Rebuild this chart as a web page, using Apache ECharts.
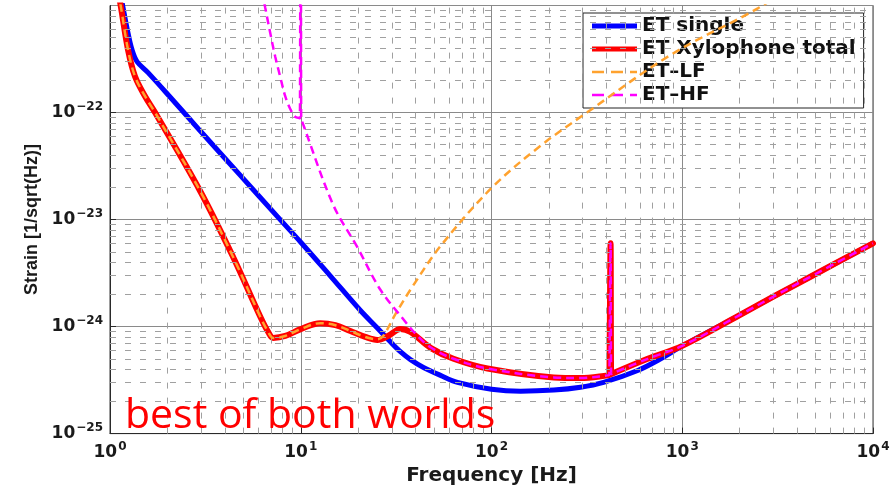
<!DOCTYPE html>
<html>
<head>
<meta charset="utf-8">
<title>ET sensitivity: single vs xylophone</title>
<script src="https://cdn.jsdelivr.net/npm/echarts@6/dist/echarts.min.js"></script>
<style>
  html, body { margin: 0; padding: 0; background: #fff; }
  #chart { width: 895px; height: 491px; }
</style>
</head>
<body>
<div id="chart"></div>
<script>
// ---- Sensitivity curves: frequency [Hz] and strain [1/sqrt(Hz)] ----
const singleFreq   = [1.128, 1.170, 1.243, 1.305, 1.386, 1.583, 2.116, 2.968, 4.81, 7.53, 10, 14.28, 20.5, 25.2, 29.5, 33.3, 37.6, 44, 54, 66.3, 100, 142, 212, 293, 387, 584, 771, 1000, 2000, 3000, 5000, 10000];
const singleStrain = [1.37e-21, 9.6e-22, 5.52e-22, 3.85e-22, 2.99e-22, 2.36e-22, 1.33e-22, 6.75e-23, 2.6e-23, 1.07e-23, 6.14e-24, 2.98e-24, 1.42e-24, 9.7e-25, 7.2e-25, 5.82e-25, 4.91e-25, 4.15e-25, 3.5e-25, 3.01e-25, 2.6e-25, 2.49e-25, 2.55e-25, 2.71e-25, 3.01e-25, 3.89e-25, 5.0e-25, 6.6e-25, 1.28e-24, 1.9e-24, 3.1e-24, 6e-24];

const totalFreq   = [1.102, 1.142, 1.243, 1.353, 1.526, 1.723, 2.968, 4.42, 6.12, 6.75, 7.17, 8.29, 10, 12.66, 15.2, 18.2, 21.8, 25.2, 28.8, 33.3, 37.6, 47.9, 63.2, 95.3, 212, 293, 406, 415, 418, 421, 424, 427, 659, 1000, 2000, 3000, 5000, 10000];
const totalStrain = [1.37e-21, 9.6e-22, 3.85e-22, 2.17e-22, 1.42e-22, 1e-22, 1.85e-23, 4.47e-24, 1.25e-24, 8.9e-25, 7.83e-25, 8.17e-25, 9.48e-25, 1.076e-24, 1.03e-24, 9.1e-25, 8.0e-25, 7.5e-25, 8.2e-25, 9.5e-25, 8.9e-25, 6.33e-25, 5.0e-25, 4.06e-25, 3.35e-25, 3.3e-25, 3.5e-25, 3.54e-25, 3.55e-25, 6e-24, 3.6e-25, 3.62e-25, 5.0e-25, 6.6e-25, 1.28e-24, 1.9e-24, 3.1e-24, 6e-24];

const lfFreq   = [1.102, 1.142, 1.243, 1.353, 1.526, 1.723, 2.968, 4.42, 6.12, 6.75, 7.17, 8.29, 10, 12.66, 15.2, 18.2, 21.8, 25.2, 27.1, 31.3, 38.5, 54, 100, 181, 319, 871, 2490, 3715];
const lfStrain = [1.37e-21, 9.6e-22, 3.85e-22, 2.17e-22, 1.42e-22, 1e-22, 1.85e-23, 4.47e-24, 1.25e-24, 8.9e-25, 7.83e-25, 8.17e-25, 9.48e-25, 1.076e-24, 1.03e-24, 9.1e-25, 8.0e-25, 7.6e-25, 8.2e-25, 1.3e-24, 2.36e-24, 5.64e-24, 1.97e-23, 4.9e-23, 1.01e-22, 3.46e-22, 9.4e-22, 1.5e-21];

const hfFreq   = [6.27, 6.51, 6.92, 7.35, 7.8, 8.29, 8.81, 9.36, 9.9, 9.95, 10, 10.05, 10.1, 14.8, 19.8, 26.1, 34.5, 40.9, 47.9, 63.2, 95.3, 212, 293, 406, 415, 418, 421, 424, 427, 659, 1000, 2000, 3000, 5000, 10000];
const hfStrain = [1.37e-21, 9.6e-22, 5.52e-22, 3.32e-22, 2.17e-22, 1.42e-22, 1.08e-22, 9.1e-23, 8.85e-23, 8.8e-23, 1e-19, 8.7e-23, 8.5e-23, 1.37e-23, 5.52e-24, 2.22e-24, 1.17e-24, 8.2e-25, 6.4e-25, 5.0e-25, 4.06e-25, 3.35e-25, 3.3e-25, 3.5e-25, 3.54e-25, 3.55e-25, 6e-24, 3.6e-25, 3.62e-25, 5.0e-25, 6.6e-25, 1.28e-24, 1.9e-24, 3.1e-24, 6e-24];

// ---- Axes ----
const freqRange   = [1, 1e4];
const strainRange = [1e-25, 1e-21];
const minorFreqLines = [2, 3, 4, 5, 6, 7, 8, 9, 20, 30, 40, 50, 60, 70, 80, 90, 200, 300, 400, 500, 600, 700, 800, 900, 2000, 3000, 4000, 5000, 6000, 7000, 8000, 9000];
const minorStrainLines = [2e-25, 3e-25, 4e-25, 5e-25, 6e-25, 7e-25, 8e-25, 9e-25, 2e-24, 3e-24, 4e-24, 5e-24, 6e-24, 7e-24, 8e-24, 9e-24, 2e-23, 3e-23, 4e-23, 5e-23, 6e-23, 7e-23, 8e-23, 9e-23, 2e-22, 3e-22, 4e-22, 5e-22, 6e-22, 7e-22, 8e-22, 9e-22];

// the strain axis runs in units of 1e-25 so the log scale keeps full precision
const STRAIN_UNIT_EXP = -25;
const STRAIN_UNIT = Math.pow(10, STRAIN_UNIT_EXP);
const toPairs = (fs, hs) => fs.map((f, i) => [f, hs[i] / STRAIN_UNIT]);

const labelFont = 'DejaVu Sans';
const powerLabel = (exp) => '{b|10}{s|' + String(exp).replace('-', '\u2212') + '}';
const labelRich = {
  b: { fontFamily: labelFont, fontWeight: 'bold', fontSize: 17, color: '#1a1a1a', lineHeight: 24 },
  s: { fontFamily: labelFont, fontWeight: 'bold', fontSize: 12, color: '#1a1a1a', lineHeight: 13, verticalAlign: 'top', padding: [0, 0, 0, 1] }
};

// legend keys: a thick bar for the solid curves, three dashes for the dashed ones
const solidKey  = 'path://M0,0H45V5H0Z';
const dashedKey = 'path://M0,0H12V2.5H0Z M19,0H31V2.5H19Z M38,0H45V2.5H38Z';

const chart = echarts.init(document.getElementById('chart'), null, { renderer: 'canvas' });

chart.setOption({
  animation: false,
  backgroundColor: '#ffffff',
  grid: { left: 110, right: 22, top: 5.5, bottom: 52, show: true, borderColor: '#3a3a3a', borderWidth: 1, backgroundColor: 'transparent' },
  xAxis: {
    type: 'log', logBase: 10, min: freqRange[0], max: freqRange[1],
    name: 'Frequency [Hz]', nameLocation: 'middle', nameGap: 28,
    nameTextStyle: { fontFamily: labelFont, fontWeight: 'bold', fontSize: 20, color: '#1a1a1a' },
    axisLine: { show: true, lineStyle: { color: '#2a2a2a', width: 1 } },
    axisTick: { show: true, inside: true, length: 6, lineStyle: { color: '#2a2a2a' } },
    splitLine: { show: true, lineStyle: { color: '#8a8a8a', width: 1 } },
    axisLabel: {
      margin: 7, showMinLabel: true, showMaxLabel: true,
      formatter: (v) => powerLabel(Math.round(Math.log10(v))),
      rich: labelRich
    }
  },
  yAxis: {
    type: 'log', logBase: 10, min: strainRange[0] / STRAIN_UNIT, max: strainRange[1] / STRAIN_UNIT,
    name: 'Strain [1/sqrt(Hz)]', nameLocation: 'middle', nameGap: 62,
    nameTextStyle: { fontFamily: 'Liberation Sans', fontWeight: 'bold', fontSize: 18, color: '#1a1a1a' },
    axisLine: { show: true, lineStyle: { color: '#2a2a2a', width: 1 } },
    axisTick: { show: true, inside: true, length: 6, lineStyle: { color: '#2a2a2a' } },
    splitLine: { show: true, lineStyle: { color: '#8a8a8a', width: 1 } },
    axisLabel: {
      margin: 7, showMinLabel: true, showMaxLabel: false,
      formatter: (v) => powerLabel(Math.round(Math.log10(v)) + STRAIN_UNIT_EXP),
      rich: labelRich
    }
  },
  legend: {
    data: [
      { name: 'ET single', icon: solidKey },
      { name: 'ET Xylophone total', icon: solidKey },
      { name: 'ET\u2013LF', icon: dashedKey },
      { name: 'ET\u2013HF', icon: dashedKey }
    ],
    orient: 'vertical', left: 583, top: 13,
    backgroundColor: '#ffffff', borderColor: '#222222', borderWidth: 1, borderRadius: 0,
    padding: [3, 8, 3, 9], itemWidth: 45, itemHeight: 14, itemGap: 3,
    selectedMode: false,
    textStyle: { fontFamily: labelFont, fontWeight: 'bold', fontSize: 20, color: '#111111', lineHeight: 20 }
  },
  graphic: [{
    type: 'text', left: 125, top: 396, z: 100, silent: true,
    style: { text: 'best of both worlds', fill: '#ff0000', font: '41px "Open Sans"' }
  }],
  series: [
    {
      // dashed minor grid at 2..9 of every decade
      type: 'line', name: 'minor grid', data: [], z: 1, silent: true,
      markLine: {
        silent: true, symbol: 'none', animation: false,
        label: { show: false },
        lineStyle: { color: '#a0a0a0', width: 1, type: [6, 9] },
        emphasis: { disabled: true },
        data: minorFreqLines.map(v => ({ xAxis: v }))
          .concat(minorStrainLines.map(v => ({ yAxis: v / STRAIN_UNIT })))
      }
    },
    {
      name: 'ET single', type: 'line', z: 3, smooth: 0.35, symbol: 'none',
      lineStyle: { color: '#0000ff', width: 5 }, itemStyle: { color: '#0000ff' },
      data: toPairs(singleFreq, singleStrain)
    },
    {
      name: 'ET Xylophone total', type: 'line', z: 4, smooth: 0.35, symbol: 'none',
      lineStyle: { color: '#ff0000', width: 6, cap: 'round', join: 'round' }, itemStyle: { color: '#ff0000' },
      data: toPairs(totalFreq, totalStrain)
    },
    {
      name: 'ET\u2013LF', type: 'line', z: 5, smooth: 0.35, symbol: 'none',
      lineStyle: { color: '#ffa22e', width: 2.5, type: [8, 5] }, itemStyle: { color: '#ffa22e' },
      data: toPairs(lfFreq, lfStrain)
    },
    {
      name: 'ET\u2013HF', type: 'line', z: 6, smooth: 0.35, symbol: 'none',
      lineStyle: { color: '#ff00ff', width: 2.5, type: [8, 5] }, itemStyle: { color: '#ff00ff' },
      data: toPairs(hfFreq, hfStrain)
    }
  ]
});
</script>
</body>
</html>
